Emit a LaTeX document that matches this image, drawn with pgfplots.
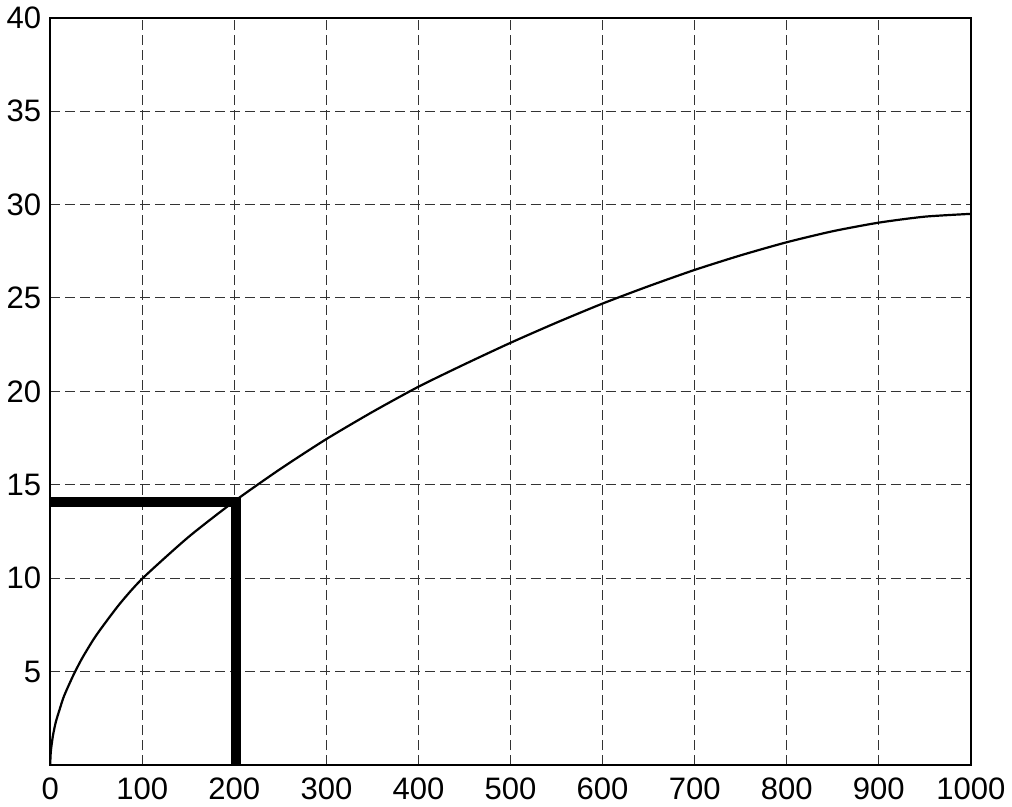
\documentclass[border=0pt]{standalone}
\usepackage{fontspec}
\setmainfont{Liberation Sans}
\usepackage{pgfplots}
\pgfplotsset{compat=1.18}
\begin{document}
\begin{tikzpicture}
\begin{axis}[
  width=460pt, height=373.5pt, scale only axis,
  xmin=0, xmax=1000, ymin=0, ymax=40,
  xtick={0,100,...,1000},
  ytick={5,10,...,40},
  major tick length=0pt,
  grid=major,
  major grid style={black!80, line width=0.5pt, dash pattern=on 5pt off 2.5pt},
  axis line style={black, line width=1pt},
  tick label style={font=\fontsize{15.5}{18}\selectfont},
  /pgf/number format/assume math mode=true,
  /pgf/number format/1000 sep={},
  xticklabel style={yshift=-3pt},
  yticklabel style={xshift=-1pt},
]
\addplot[black, line width=1.1pt, smooth, tension=0.4] coordinates {
(0,0) (0.3,0.5) (1,0.9) (3,1.6) (6,2.3) (10,2.95) (15,3.7) (25,4.8) (35,5.75)
(50,6.95) (75,8.6) (100,9.98) (150,12.2) (200,14.12) (250,15.85) (300,17.45)
(350,18.9) (400,20.25) (450,21.45) (500,22.6) (550,23.68) (600,24.7) (650,25.63)
(700,26.5) (750,27.28) (800,27.98) (850,28.57) (900,29.03) (950,29.35) (1000,29.5)
};
\addplot[black, line width=4.8pt, line join=miter] coordinates {
(0,14.08) (201.8,14.08) (201.8,0)
};
\end{axis}
\end{tikzpicture}
\end{document}
